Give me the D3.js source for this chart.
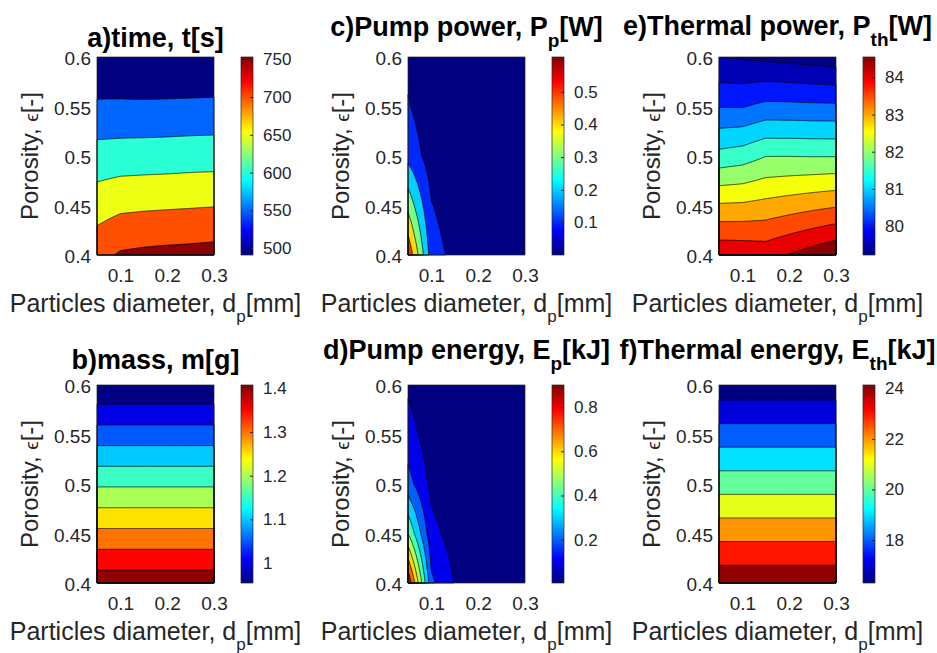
<!DOCTYPE html>
<html>
<head>
<meta charset="utf-8">
<script src="https://cdn.jsdelivr.net/npm/d3@7"></script>
<style>
  body { margin: 0; background: #fff; }
  text { font-family: "Liberation Sans", Arial, Helvetica, sans-serif; }
</style>
</head>
<body>
<svg id="chart" width="937" height="653"></svg>
<script>
// ---------------- data ----------------
const dpGrid = [0.05, 0.1, 0.15, 0.2, 0.25, 0.3];          // particle diameter [mm]
const porosityGrid = [0.4, 0.45, 0.5, 0.55, 0.6];          // porosity [-]
const dpTicks = [0.1, 0.2, 0.3];
const porosityTicks = [0.4, 0.45, 0.5, 0.55, 0.6];

// rows: porosity 0.4 -> 0.6 ; columns: dp 0.05 -> 0.3
const timeValues = [
  [733, 756, 761, 764, 766, 769],
  [677, 689, 692, 694, 696, 698],
  [620, 623, 624, 625, 627, 628],
  [559, 559, 559, 560, 561, 562],
  [498, 500, 494, 495, 496, 497]
];
const timeLevels = [550, 600, 650, 700, 750];
const timeColorRange = [491, 753];
const timeColorTicks = [500, 550, 600, 650, 700, 750];

const massByPorosity = [1.431, 1.312, 1.193, 1.073, 0.954];
const massLevels = [1.0, 1.05, 1.1, 1.15, 1.2, 1.25, 1.3, 1.35, 1.4];
const massColorRange = [0.954, 1.408];
const massColorTicks = [1, 1.1, 1.2, 1.3, 1.4];

const pumpPowerValues = [
  [0.59, 0.15, 0.067, 0.037, 0.024, 0.017],
  [0.37, 0.105, 0.04, 0.022, 0.014, 0.01],
  [0.17, 0.05, 0.023, 0.013, 0.008, 0.006],
  [0.108, 0.03, 0.014, 0.008, 0.005, 0.003],
  [0.075, 0.019, 0.009, 0.005, 0.003, 0.002]
];
const pumpPowerLevels = [0.1, 0.2, 0.3, 0.4, 0.5];
const pumpPowerColorRange = [0, 0.607];
const pumpPowerColorTicks = [0.1, 0.2, 0.3, 0.4, 0.5];

const pumpEnergyValues = [
  [0.9, 0.22, 0.095, 0.054, 0.035, 0.024],
  [0.5, 0.13, 0.058, 0.033, 0.021, 0.015],
  [0.24, 0.075, 0.034, 0.019, 0.012, 0.009],
  [0.14, 0.045, 0.02, 0.012, 0.007, 0.005],
  [0.085, 0.028, 0.013, 0.007, 0.005, 0.004]
];
const pumpEnergyLevels = [0.1, 0.2, 0.3, 0.4, 0.5, 0.6, 0.7, 0.8];
const pumpEnergyColorRange = [0.004, 0.9];
const pumpEnergyColorTicks = [0.2, 0.4, 0.6, 0.8];

const thermalPowerValues = [
  [84.41, 84.38, 84.32, 84.53, 84.74, 84.95],
  [83.06, 83.08, 83.16, 83.26, 83.36, 83.45],
  [81.66, 81.76, 81.99, 81.99, 81.98, 81.98],
  [80.48, 80.47, 80.63, 80.62, 80.60, 80.59],
  [79.49, 79.45, 79.39, 79.34, 79.28, 79.23]
];
const thermalPowerLevels = [79.5, 80, 80.5, 81, 81.5, 82, 82.5, 83, 83.5, 84, 84.5];
const thermalPowerColorRange = [79.22, 84.55];
const thermalPowerColorTicks = [80, 81, 82, 83, 84];

const thermalEnergyByPorosity = [24.75, 22.66, 20.56, 18.46, 16.36];
const thermalEnergyLevels = [17, 18, 19, 20, 21, 22, 23, 24];
const thermalEnergyColorRange = [16.3, 24.13];
const thermalEnergyColorTicks = [18, 20, 22, 24];

// ---------------- layout ----------------
const cols = [97, 408, 719], rows = [57, 385];
const PW = 117, PH = 198, CB_OFF = 144, CB_W = 12;
const AXIS_COLOR = "#262626";

function gridFromProfile(profile) { return profile.map(v => dpGrid.map(() => v)); }

const panels = [
  {col: 0, row: 0, title: ["a)time, t[s]"], tb: 46.5, values: timeValues, levels: timeLevels, range: timeColorRange, cticks: timeColorTicks},
  {col: 0, row: 1, title: ["b)mass, m[g]"], tb: 369, values: gridFromProfile(massByPorosity), levels: massLevels, range: massColorRange, cticks: massColorTicks},
  {col: 1, row: 0, title: ["c)Pump power, P", "p", "[W]"], tb: 36, values: pumpPowerValues, levels: pumpPowerLevels, range: pumpPowerColorRange, cticks: pumpPowerColorTicks},
  {col: 1, row: 1, title: ["d)Pump energy, E", "p", "[kJ]"], tb: 358.5, values: pumpEnergyValues, levels: pumpEnergyLevels, range: pumpEnergyColorRange, cticks: pumpEnergyColorTicks},
  {col: 2, row: 0, title: ["e)Thermal power, P", "th", "[W]"], tb: 35, values: thermalPowerValues, levels: thermalPowerLevels, range: thermalPowerColorRange, cticks: thermalPowerColorTicks},
  {col: 2, row: 1, title: ["f)Thermal energy, E", "th", "[kJ]"], tb: 358.5, values: gridFromProfile(thermalEnergyByPorosity), levels: thermalEnergyLevels, range: thermalEnergyColorRange, cticks: thermalEnergyColorTicks}
];

function jet(t) {
  t = Math.max(0, Math.min(1, t));
  const f = v => Math.max(0, Math.min(1, v));
  return d3.rgb(255 * f(1.5 - Math.abs(4 * t - 3)), 255 * f(1.5 - Math.abs(4 * t - 2)), 255 * f(1.5 - Math.abs(4 * t - 1))).formatHex();
}

function bilinear(grid, xg, yg, x, y) {
  let i = d3.bisectRight(xg, x) - 1; i = Math.max(0, Math.min(xg.length - 2, i));
  let j = d3.bisectRight(yg, y) - 1; j = Math.max(0, Math.min(yg.length - 2, j));
  const tx = (x - xg[i]) / (xg[i + 1] - xg[i]), ty = (y - yg[j]) / (yg[j + 1] - yg[j]);
  return grid[j][i] * (1 - tx) * (1 - ty) + grid[j][i + 1] * tx * (1 - ty) +
         grid[j + 1][i] * (1 - tx) * ty + grid[j + 1][i + 1] * tx * ty;
}

const svg = d3.select("#chart");
const defs = svg.append("defs");
const fmt = d3.format("~g");
const NX = 176, NY = 141;
const dp0 = dpGrid[0], dp1 = dpGrid[dpGrid.length - 1];
const e0 = porosityGrid[0], e1 = porosityGrid[porosityGrid.length - 1];

function cleanAxis(sel, size) {
  sel.attr("font-family", null).attr("font-size", null);
  sel.select(".domain").remove();
  sel.selectAll("text").attr("font-size", size).attr("fill", AXIS_COLOR);
}

panels.forEach((p, idx) => {
  const left = cols[p.col], top = rows[p.row];
  const x = d3.scaleLinear().domain([dp0, dp1]).range([left, left + PW]);
  const y = d3.scaleLinear().domain([e0, e1]).range([top + PH, top]);
  const cnorm = v => (v - p.range[0]) / (p.range[1] - p.range[0]);

  // resample grid for contouring
  const vals = new Float64Array(NX * NY);
  const sx = (dp1 - dp0) / (NX - 1), sy = (e1 - e0) / (NY - 1);
  for (let j = 0; j < NY; j++) for (let i = 0; i < NX; i++)
    vals[j * NX + i] = bilinear(p.values, dpGrid, porosityGrid, dp0 + i * sx, e0 + j * sy);

  const contours = d3.contours().size([NX, NY]).thresholds(p.levels)(vals);
  const proj = d3.geoTransform({
    point(px, py) {
      const dp = Math.max(dp0, Math.min(dp1, dp0 + (px - 0.5) * sx));
      const ep = Math.max(e0, Math.min(e1, e0 + (py - 0.5) * sy));
      this.stream.point(x(dp), y(ep));
    }
  });
  const path = d3.geoPath(proj);

  const g = svg.append("g");
  g.append("rect").attr("x", left).attr("y", top).attr("width", PW).attr("height", PH)
    .attr("fill", jet(0));
  g.selectAll("path.fill").data(contours).join("path").attr("class", "fill")
    .attr("d", path).attr("fill", d => jet(cnorm(d.value)));
  g.selectAll("path.line").data(contours).join("path").attr("class", "line")
    .attr("d", path).attr("fill", "none").attr("stroke", "#000").attr("stroke-width", 0.7);
  g.append("rect").attr("x", left).attr("y", top).attr("width", PW).attr("height", PH)
    .attr("fill", "none").attr("stroke", AXIS_COLOR).attr("stroke-width", 0.7);

  // axes
  const ax = svg.append("g").attr("transform", `translate(0,${top + PH})`)
    .call(d3.axisBottom(x).tickValues(dpTicks).tickSize(0).tickPadding(14).tickFormat(fmt));
  cleanAxis(ax, 19);
  const ay = svg.append("g").attr("transform", `translate(${left},0)`)
    .call(d3.axisLeft(y).tickValues(porosityTicks).tickSize(0).tickPadding(6).tickFormat(fmt));
  cleanAxis(ay, 19);
  ay.selectAll("text").attr("dy", "0.42em");

  // x label
  const xl = svg.append("text").attr("x", left + PW / 2).attr("y", top + PH + 57)
    .attr("text-anchor", "middle").attr("font-size", 25).attr("fill", AXIS_COLOR);
  xl.append("tspan").text("Particles diameter, d");
  xl.append("tspan").attr("dy", 10).attr("font-size", 17).text("p");
  xl.append("tspan").attr("dy", -10).text("[mm]");

  // y label
  const yl = svg.append("text")
    .attr("transform", `translate(${left - 59},${top + PH / 2}) rotate(-90)`)
    .attr("text-anchor", "middle").attr("font-size", 24).attr("fill", AXIS_COLOR);
  yl.append("tspan").text("Porosity, ");
  yl.append("tspan").attr("font-size", 19).text("ϵ");
  yl.append("tspan").text("[-]");

  // title
  const tt = svg.append("text").attr("x", left + PW / 2).attr("y", p.tb)
    .attr("text-anchor", "middle").attr("font-size", 27).attr("font-weight", "bold").attr("fill", "#000");
  tt.append("tspan").text(p.title[0]);
  if (p.title.length > 1) {
    tt.append("tspan").attr("dy", 11).attr("font-size", 19).text(p.title[1]);
    tt.append("tspan").attr("dy", -11).text(p.title[2]);
  }

  // colorbar
  const cbx = left + CB_OFF;
  const gid = "grad" + idx;
  const grad = defs.append("linearGradient").attr("id", gid)
    .attr("x1", 0).attr("y1", 1).attr("x2", 0).attr("y2", 0);
  d3.range(0, 65).forEach(k => {
    grad.append("stop").attr("offset", k / 64).attr("stop-color", jet(k / 64));
  });
  svg.append("rect").attr("x", cbx).attr("y", top).attr("width", CB_W).attr("height", PH)
    .attr("fill", `url(#${gid})`).attr("stroke", AXIS_COLOR).attr("stroke-width", 0.7);
  const cy = d3.scaleLinear().domain(p.range).range([top + PH, top]);
  const ac = svg.append("g").attr("transform", `translate(${cbx + CB_W},0)`)
    .call(d3.axisRight(cy).tickValues(p.cticks).tickSize(-3).tickPadding(10).tickFormat(fmt));
  cleanAxis(ac, 17);
  ac.selectAll("line").attr("stroke", AXIS_COLOR);
});
</script>
</body>
</html>
